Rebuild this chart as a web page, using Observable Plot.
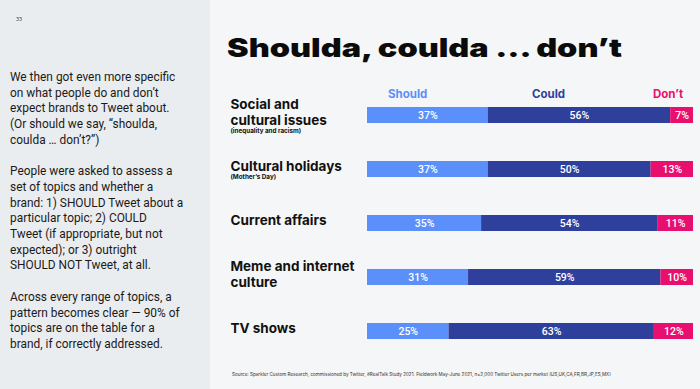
<!DOCTYPE html>
<html>
<head>
<meta charset="utf-8">
<script src="https://cdn.jsdelivr.net/npm/d3@7"></script>
<script src="https://cdn.jsdelivr.net/npm/@observablehq/plot@0.6"></script>
<style>
  html, body { margin: 0; padding: 0; }
  body { width: 700px; height: 389px; position: relative; overflow: hidden; background: #f5f6f7; font-family: Inter, "Noto Sans", sans-serif; }
  #leftpanel { position: absolute; left: 0; top: 0; width: 210px; height: 389px; background: #eaedef; }
  #pageno { position: absolute; left: 16px; top: 16px; font-size: 5px; color: #444; }
  #prose { position: absolute; left: 10px; top: 70px; width: 205px; font-family: Roboto, sans-serif; font-size: 11.9px; line-height: 15.7px; color: #1a1a1a; white-space: nowrap; }
  #prose p { margin: 0 0 15.7px 0; }
  #title { position: absolute; left: 227px; top: 32px; font-size: 25.5px; font-weight: 900; color: #0b0b0b; white-space: nowrap; transform-origin: left top; }
  .leg { position: absolute; top: 87px; font-size: 11.5px; font-weight: 700; white-space: nowrap; }
  #chart { position: absolute; left: 210px; top: 80px; }
  #source { position: absolute; left: 232px; top: 372px; font-size: 4.6px; color: #333; white-space: nowrap; }
</style>
</head>
<body>
<div id="leftpanel"></div>
<div id="pageno">33</div>
<div id="prose">
<p>We then got even more specific<br>on what people do and don’t<br>expect brands to Tweet about.<br>(Or should we say, “shoulda,<br>coulda … don’t?”)</p>
<p>People were asked to assess a<br>set of topics and whether a<br>brand: 1) SHOULD Tweet about a<br>particular topic; 2) COULD<br>Tweet (if appropriate, but not<br>expected); or 3) outright<br>SHOULD NOT Tweet, at all.</p>
<p>Across every range of topics, a<br>pattern becomes clear — 90% of<br>topics are on the table for a<br>brand, if correctly addressed.</p>
</div>
<div id="title">Shoulda, coulda … don’t</div>
<div id="legend"></div>
<div id="chart"></div>
<div id="source">Source: Sparkler Custom Research, commissioned by Twitter, #RealTalk Study 2021. Fieldwork May-June 2021, n=2,000 Twitter Users per market (US,UK,CA,FR,BR,JP,ES,MX)</div>
<script>
const categories = ["Social and\ncultural issues", "Cultural holidays", "Current affairs", "Meme and internet\nculture", "TV shows"];
const sublabels = ["(inequality and racism)", "(Mother’s Day)", "", "", ""];
const groups = ["Should", "Could", "Don’t"];
const shouldValues = [37, 37, 35, 31, 25];
const couldValues = [56, 50, 54, 59, 63];
const dontValues = [7, 13, 11, 10, 12];
const colors = ["#5b8ff9", "#2f3f9c", "#e8106f"];
const legendLeft = [388, 532, 653];

const series = [shouldValues, couldValues, dontValues];
const rows = [];
categories.forEach((cat, i) => {
  groups.forEach((g, j) => rows.push({cat, group: g, value: series[j][i]}));
});
const cats = categories.map((cat, i) => ({cat, sub: sublabels[i], lines: cat.split("\n").length}));

// legend (HTML)
const legend = document.getElementById("legend");
groups.forEach((g, j) => {
  const d = document.createElement("div");
  d.className = "leg";
  d.style.left = legendLeft[j] + "px";
  d.style.color = colors[j];
  d.textContent = g;
  legend.appendChild(d);
});

const chart = Plot.plot({
  width: 490,
  height: 278,
  marginLeft: 157,
  marginRight: 7,
  marginTop: 8,
  marginBottom: 0,
  x: {domain: [0, 100], axis: null},
  y: {domain: categories, axis: null, paddingInner: 0.7, paddingOuter: 0.35},
  color: {domain: groups, range: colors},
  style: {fontFamily: "Inter, 'Noto Sans', sans-serif", background: "transparent", overflow: "visible"},
  marks: [
    Plot.barX(rows, Plot.stackX({x: "value", y: "cat", fill: "group", z: "group", order: groups})),
    Plot.text(rows, Plot.stackX({x: "value", y: "cat", z: "group", text: d => d.value + "%", order: groups, fill: "white", fontSize: 10.5, fontFamily: "'Liberation Sans Narrow', 'Roboto', sans-serif", fontWeight: 500})),
    Plot.text(cats, {y: "cat", text: "cat", frameAnchor: "left", textAnchor: "start", dx: -137, dy: -3.5, fontSize: 13.5, fontWeight: 700, lineHeight: 1.185, fill: "#111"}),
    Plot.text(cats.filter(d => d.sub && d.lines === 2), {y: "cat", text: "sub", frameAnchor: "left", textAnchor: "start", dx: -137, dy: 15.5, fontSize: 6.3, fontWeight: 700, fill: "#111"}),
    Plot.text(cats.filter(d => d.sub && d.lines === 1), {y: "cat", text: "sub", frameAnchor: "left", textAnchor: "start", dx: -137, dy: 7.5, fontSize: 6.3, fontWeight: 700, fill: "#111"})
  ]
});
document.getElementById("chart").appendChild(chart);

// stretch title to the reference width
const title = document.getElementById("title");
const w = title.getBoundingClientRect().width;
title.style.transform = `scaleX(${395 / w})`;
</script>
</body>
</html>
